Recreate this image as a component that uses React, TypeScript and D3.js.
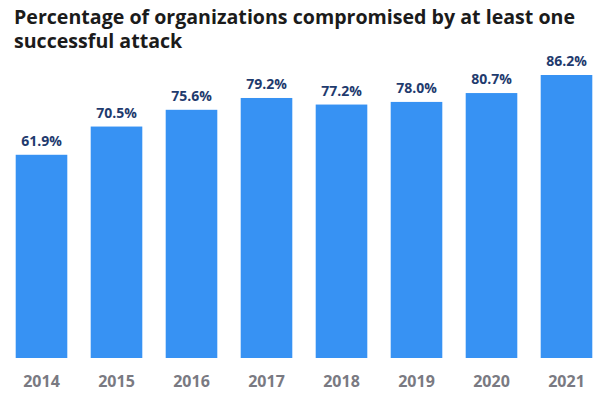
import * as React from "react";
import * as d3 from "d3";

const years = ["2014", "2015", "2016", "2017", "2018", "2019", "2020", "2021"];
const values = [61.9, 70.5, 75.6, 79.2, 77.2, 78.0, 80.7, 86.2];
const titleLines = [
  "Percentage of organizations compromised by at least one",
  "successful attack",
];

const width = 609;
const height = 397;
const baseY = 358;

export default function App() {
  const x = d3.scaleBand<string>()
    .domain(years)
    .range([4, 604])
    .paddingInner(0.312)
    .paddingOuter(0.156);

  // bars scale: 0 sits on baseline, 86.2 reaches y=75
  const y = d3.scaleLinear().domain([0, 86.2]).range([baseY, 75]);

  return (
    <svg
      width={width}
      height={height}
      style={{ position: "absolute", left: 0, top: 0, background: "#fff" }}
      fontFamily='"Open Sans", sans-serif'
    >
      {titleLines.map((t, i) => (
        <text key={i} x={14} y={24 + i * 23.5} fontSize={19.6} fontWeight={700} fill="#1b1b1b">
          {t}
        </text>
      ))}
      <g>
        {values.map((v, i) => {
          const bx = x(years[i])!;
          return (
            <g key={years[i]}>
              <rect x={bx} y={y(v)} width={x.bandwidth()} height={baseY - y(v)} fill="#3792F3" />
              <text
                x={bx + x.bandwidth() / 2}
                y={y(v) - 9}
                textAnchor="middle"
                fontSize={14}
                fontWeight={700}
                fill="#1F3B6E"
              >
                {d3.format(".1f")(v)}%
              </text>
              <text
                x={bx + x.bandwidth() / 2}
                y={387}
                textAnchor="middle"
                fontSize={16}
                fontWeight={700}
                fill="#7A7A82"
              >
                {years[i]}
              </text>
            </g>
          );
        })}
      </g>
    </svg>
  );
}
